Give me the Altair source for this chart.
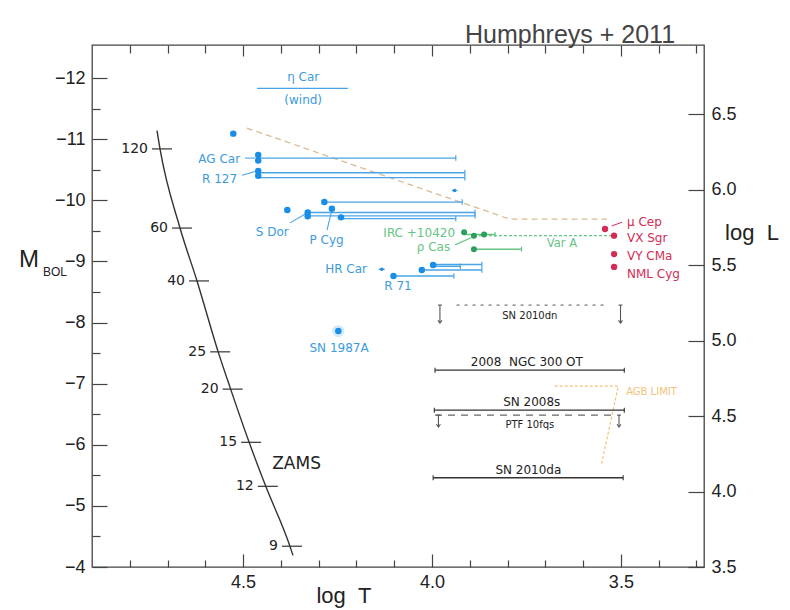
import altair as alt
import pandas as pd

# ---------------- data (log T, M_bol) ----------------
# ZAMS track and mass marks
zams_logt = [4.728, 4.720, 4.667, 4.622, 4.566, 4.533, 4.484, 4.440, 4.376, 4.368]
zams_mbol = [-11.14, -10.84, -9.545, -8.68, -7.52, -6.91, -6.04, -5.32, -4.34, -4.19]
zams_mass = ["", "120", "60", "40", "25", "20", "15", "12", "9", ""]

# Humphreys-Davidson limit (dashed)
hd_logt = [4.490, 3.794, 3.537]
hd_mbol = [-11.18, -9.69, -9.69]

# AGB limit
agb_logt = [3.675, 3.507, 3.551]
agb_mbol = [-6.96, -6.96, -5.69]

# eta Car wind
etacar_lo = [4.463]
etacar_hi = [4.222]
etacar_m = [-11.83]

# blue stars (LBVs etc.)
blue_pt_logt = [4.526, 4.46, 4.46, 4.46, 4.46, 4.285, 4.383, 4.265, 4.329, 4.329, 4.241, 4.102, 4.027, 3.997, 4.248]
blue_pt_mbol = [-11.09, -10.74, -10.65, -10.48, -10.40, -9.97, -9.84, -9.86, -9.80, -9.74, -9.72, -8.76, -8.86, -8.94, -7.86]
blue_small_logt = [3.940, 4.133]
blue_small_mbol = [-10.16, -8.87]
blue_rng_lo = [4.46, 4.46, 4.46, 3.947, 4.285, 4.329, 4.329, 4.241, 4.141, 4.102, 4.027, 3.997, 3.997]
blue_rng_hi = [3.937, 3.913, 3.913, 3.933, 3.920, 3.886, 3.886, 3.937, 4.125, 3.942, 3.868, 3.868, 3.925]
blue_rng_m = [-10.69, -10.45, -10.37, -10.16, -9.97, -9.80, -9.745, -9.70, -8.87, -8.76, -8.86, -8.95, -8.92]
sn87_logt = [4.248]
sn87_mbol = [-7.86]

blue_lab_r_text = ["AG Car", "R 127", "HR Car"]
blue_lab_r_logt = [4.508, 4.516, 4.172]
blue_lab_r_m = [-10.67, -10.35, -8.87]
blue_lab_c_text = ["S Dor", "P Cyg", "R 71", "SN 1987A", "η Car", "(wind)"]
blue_lab_c_logt = [4.423, 4.279, 4.090, 4.246, 4.341, 4.341]
blue_lab_c_m = [-9.475, -9.35, -8.60, -7.58, -12.02, -11.64]
blue_lead_x = [4.495, 4.503, 4.376, 4.278]
blue_lead_x2 = [4.468, 4.468, 4.331, 4.265]
blue_lead_y = [-10.69, -10.41, -9.63, -9.51]
blue_lead_y2 = [-10.69, -10.47, -9.79, -9.84]

# green stars (yellow hypergiants)
green_pt_logt = [3.915, 3.889, 3.862, 3.889]
green_pt_mbol = [-9.475, -9.42, -9.44, -9.20]
green_rng_lo = [3.915, 3.889]
green_rng_hi = [3.833, 3.763]
green_rng_m = [-9.44, -9.20]
vara_lo = [3.889]
vara_hi = [3.521]
vara_m = [-9.42]
green_lab_r_text = ["IRC +10420", "ρ Cas"]
green_lab_r_logt = [3.939, 3.952]
green_lab_r_m = [-9.46, -9.24]
green_lab_c_text = ["Var A"]
green_lab_c_logt = [3.656]
green_lab_c_m = [-9.29]

# red supergiants
rsg_names = ["μ Cep", "VX Sgr", "VY CMa", "NML Cyg"]
rsg_logt = [3.542, 3.518, 3.518, 3.518]
rsg_mbol = [-9.53, -9.42, -9.12, -8.91]
rsg_lab_logt = [3.484, 3.484, 3.484, 3.484]
rsg_lab_mbol = [-9.64, -9.39, -9.08, -8.79]

# transients: detected ranges
snd_names = ["2008\u00a0\u00a0NGC 300 OT", "SN 2008s", "SN 2010da"]
snd_lo = [3.992, 3.994, 3.997]
snd_hi = [3.491, 3.491, 3.494]
snd_m = [-7.22, -6.566, -5.46]
snd_lab_logt = [3.749, 3.736, 3.745]
snd_lab_m = [-7.36, -6.70, -5.58]
# transients: upper limits
snl_names = ["SN 2010dn", "PTF 10fqs"]
snl_lo = [3.935, 3.992]
snl_hi = [3.538, 3.521]
snl_m = [-8.285, -6.485]
snl_lab_logt = [3.741, 3.741]
snl_lab_m = [-8.10, -6.32]
arrow_logt = [3.979, 3.501, 3.983, 3.505]
arrow_top = [-8.285, -8.285, -6.485, -6.485]
arrow_bot = [-7.99, -7.99, -6.29, -6.29]

# axes
m_ticks = [-12, -11, -10, -9, -8, -7, -6, -5, -4]
m_minor = [-11.5, -10.5, -9.5, -8.5, -7.5, -6.5, -5.5, -4.5]
t_ticks = [4.5, 4.0, 3.5]
t_minor = [4.8, 4.7, 4.6, 4.4, 4.3, 4.2, 4.1, 3.9, 3.8, 3.7, 3.6, 3.4, 3.3]
l_ticks = [3.5, 4.0, 4.5, 5.0, 5.5, 6.0, 6.5]

# ---------------- styles ----------------
BLUE_PT = "#1a8ee6"
BLUE_LN = "#48a4e6"
BLUE_TX = "#3c9be0"
GREEN_PT = "#2e9e5e"
GREEN_LN = "#66c486"
RED = "#d22c55"
INK = "#333333"
SANS = "DejaVu Sans"
ARIAL = "Liberation Sans"

xs = alt.Scale(domain=[4.90, 3.28], nice=False, zero=False)
ys = alt.Scale(domain=[-4.0, -12.54], nice=False, zero=False)
ls = alt.Scale(domain=[3.5, 6.957], nice=False, zero=False)


def X(f):
    return alt.X(f + ":Q", scale=xs, axis=None)


def Y(f):
    return alt.Y(f + ":Q", scale=ys, axis=None)


def df(**kw):
    return pd.DataFrame(kw)


HBAR = "M -1 0 L 1 0"
VBAR = "M 0 -1 L 0 1"
VHEAD = "M -1 -1.4 L 0 0 L 1 -1.4"

layers = []

# ZAMS
zams = df(t=zams_logt, m=zams_mbol, lab=zams_mass, o=list(range(len(zams_logt))))
layers.append(alt.Chart(zams).mark_line(color=INK, strokeWidth=1.4, interpolate="monotone")
              .encode(x=X("t"), y=Y("m"), order="o:Q"))
mass = zams[zams.lab != ""]
layers.append(alt.Chart(mass).mark_point(shape=HBAR, size=400, filled=False, color=INK, strokeWidth=1.2,
                                         opacity=1, xOffset=2).encode(x=X("t"), y=Y("m")))
layers.append(alt.Chart(mass).mark_text(align="right", dx=-12, font=SANS, fontSize=14, color="#222")
              .encode(x=X("t"), y=Y("m"), text="lab:N"))
layers.append(alt.Chart(df(t=[4.423], m=[-5.69], s=["ZAMS"])).mark_text(align="left", font=SANS, fontSize=17, color="#222")
              .encode(x=X("t"), y=Y("m"), text="s:N"))

# HD limit and AGB limit
layers.append(alt.Chart(df(t=hd_logt, m=hd_mbol, o=[0, 1, 2])).mark_line(color="#d9bb92", strokeWidth=1.3, strokeDash=[6, 4])
              .encode(x=X("t"), y=Y("m"), order="o:Q"))
layers.append(alt.Chart(df(t=agb_logt, m=agb_mbol, o=[0, 1, 2])).mark_line(color="#f2c27a", strokeWidth=1.2, strokeDash=[3, 2])
              .encode(x=X("t"), y=Y("m"), order="o:Q"))
layers.append(alt.Chart(df(t=[3.419], m=[-6.87], s=["AGB LIMIT"])).mark_text(font=SANS, fontSize=10, color="#f2c27a")
              .encode(x=X("t"), y=Y("m"), text="s:N"))

# eta Car wind
layers.append(alt.Chart(df(a=etacar_lo, b=etacar_hi, m=etacar_m)).mark_rule(color=BLUE_LN, strokeWidth=1.3)
              .encode(x=X("a"), x2="b:Q", y=Y("m")))

# blue ranges
brng = df(a=blue_rng_lo, b=blue_rng_hi, m=blue_rng_m)
layers.append(alt.Chart(brng).mark_rule(color=BLUE_LN, strokeWidth=1.4).encode(x=X("a"), x2="b:Q", y=Y("m")))
bcap = brng[(brng.a - brng.b) > 0.03]
layers.append(alt.Chart(bcap).mark_point(shape=VBAR, size=30, filled=False, color=BLUE_LN, strokeWidth=1.2, opacity=1)
              .encode(x=X("b"), y=Y("m")))
layers.append(alt.Chart(df(x=blue_lead_x, x2=blue_lead_x2, y=blue_lead_y, y2=blue_lead_y2))
              .mark_rule(color=BLUE_LN, strokeWidth=1.1).encode(x=X("x"), x2="x2:Q", y=Y("y"), y2="y2:Q"))
layers.append(alt.Chart(df(t=sn87_logt, m=sn87_mbol)).mark_point(filled=True, size=150, color="#9fd0f5", opacity=0.45)
              .encode(x=X("t"), y=Y("m")))
layers.append(alt.Chart(df(t=blue_pt_logt, m=blue_pt_mbol)).mark_point(filled=True, size=42, color=BLUE_PT, opacity=1)
              .encode(x=X("t"), y=Y("m")))
layers.append(alt.Chart(df(t=blue_small_logt, m=blue_small_mbol)).mark_point(filled=True, size=12, color=BLUE_PT, opacity=1)
              .encode(x=X("t"), y=Y("m")))
layers.append(alt.Chart(df(t=blue_lab_r_logt, m=blue_lab_r_m, s=blue_lab_r_text))
              .mark_text(align="right", font=SANS, fontSize=12, color=BLUE_TX).encode(x=X("t"), y=Y("m"), text="s:N"))
layers.append(alt.Chart(df(t=blue_lab_c_logt, m=blue_lab_c_m, s=blue_lab_c_text))
              .mark_text(align="center", font=SANS, fontSize=12, color=BLUE_TX).encode(x=X("t"), y=Y("m"), text="s:N"))

# green
layers.append(alt.Chart(df(a=vara_lo, b=vara_hi, m=vara_m)).mark_rule(color=GREEN_LN, strokeWidth=1.3, strokeDash=[3, 2])
              .encode(x=X("a"), x2="b:Q", y=Y("m")))
grng = df(a=green_rng_lo, b=green_rng_hi, m=green_rng_m)
layers.append(alt.Chart(grng).mark_rule(color=GREEN_LN, strokeWidth=1.5).encode(x=X("a"), x2="b:Q", y=Y("m")))
layers.append(alt.Chart(grng).mark_point(shape=VBAR, size=25, filled=False, color=GREEN_LN, strokeWidth=1.2, opacity=1)
              .encode(x=X("b"), y=Y("m")))
layers.append(alt.Chart(df(x=[3.939], x2=[3.895], y=[-9.27], y2=[-9.39]))
              .mark_rule(color=GREEN_LN, strokeWidth=1.1).encode(x=X("x"), x2="x2:Q", y=Y("y"), y2="y2:Q"))
layers.append(alt.Chart(df(t=green_pt_logt, m=green_pt_mbol)).mark_point(filled=True, size=36, color=GREEN_PT, opacity=1)
              .encode(x=X("t"), y=Y("m")))
layers.append(alt.Chart(df(t=green_lab_r_logt, m=green_lab_r_m, s=green_lab_r_text))
              .mark_text(align="right", font=SANS, fontSize=12, color=GREEN_LN).encode(x=X("t"), y=Y("m"), text="s:N"))
layers.append(alt.Chart(df(t=green_lab_c_logt, m=green_lab_c_m, s=green_lab_c_text))
              .mark_text(align="center", font=SANS, fontSize=11.5, color=GREEN_LN).encode(x=X("t"), y=Y("m"), text="s:N"))

# red
layers.append(alt.Chart(df(x=[3.524], x2=[3.497], y=[-9.58], y2=[-9.64]))
              .mark_rule(color=RED, strokeWidth=1.0).encode(x=X("x"), x2="x2:Q", y=Y("y"), y2="y2:Q"))
layers.append(alt.Chart(df(t=rsg_logt, m=rsg_mbol)).mark_point(filled=True, size=40, color=RED, opacity=1)
              .encode(x=X("t"), y=Y("m")))
layers.append(alt.Chart(df(t=rsg_lab_logt, m=rsg_lab_mbol, s=rsg_names))
              .mark_text(align="left", font=SANS, fontSize=12, color=RED).encode(x=X("t"), y=Y("m"), text="s:N"))

# transients detected
snd = df(a=snd_lo, b=snd_hi, m=snd_m)
layers.append(alt.Chart(snd).mark_rule(color=INK, strokeWidth=1.3).encode(x=X("a"), x2="b:Q", y=Y("m")))
layers.append(alt.Chart(snd).mark_point(shape=VBAR, size=25, filled=False, color=INK, strokeWidth=1.1, opacity=1)
              .encode(x=X("a"), y=Y("m")))
layers.append(alt.Chart(snd).mark_point(shape=VBAR, size=25, filled=False, color=INK, strokeWidth=1.1, opacity=1)
              .encode(x=X("b"), y=Y("m")))
layers.append(alt.Chart(df(t=snd_lab_logt, m=snd_lab_m, s=snd_names))
              .mark_text(font=SANS, fontSize=12, color="#222").encode(x=X("t"), y=Y("m"), text="s:N"))
# transients upper limits
layers.append(alt.Chart(df(a=snl_lo[:1], b=snl_hi[:1], m=snl_m[:1])).mark_rule(color="#777", strokeWidth=1.2, strokeDash=[3, 5])
              .encode(x=X("a"), x2="b:Q", y=Y("m")))
layers.append(alt.Chart(df(a=snl_lo[1:], b=snl_hi[1:], m=snl_m[1:])).mark_rule(color="#666", strokeWidth=1.3, strokeDash=[7, 6])
              .encode(x=X("a"), x2="b:Q", y=Y("m")))
arr = df(t=arrow_logt, a=arrow_top, b=arrow_bot)
layers.append(alt.Chart(arr).mark_rule(color="#555", strokeWidth=1.1).encode(x=X("t"), y=Y("a"), y2="b:Q"))
layers.append(alt.Chart(arr).mark_point(shape=HBAR, size=16, filled=False, color="#555", strokeWidth=1.1, opacity=1)
              .encode(x=X("t"), y=Y("a")))
layers.append(alt.Chart(arr).mark_point(shape=VHEAD, size=16, filled=False, color="#555", strokeWidth=1.1, opacity=1)
              .encode(x=X("t"), y=Y("b")))
layers.append(alt.Chart(df(t=snl_lab_logt, m=snl_lab_m, s=snl_names))
              .mark_text(font=SANS, fontSize=10, color="#222").encode(x=X("t"), y=Y("m"), text="s:N"))

# ---------------- axes ----------------
AX = dict(domain=False, grid=False, title=None, tickColor="#444", tickWidth=1.2, labelFlush=False,
          labelFont=ARIAL, labelFontSize=18, labelColor="#222")


def yaxis_layer(vals, size, labels):
    kw = dict(AX)
    kw.update(orient="left", values=vals, offset=-size, tickSize=size, labels=labels, labelPadding=7)
    return alt.Chart(df(v=vals)).mark_point(opacity=0).encode(y=alt.Y("v:Q", scale=ys, axis=alt.Axis(**kw)))


def xaxis_layer(vals, size, labels, orient):
    kw = dict(AX)
    kw.update(orient=orient, values=vals, offset=-size, tickSize=size, labels=labels, labelPadding=6, format=".1f")
    return alt.Chart(df(v=vals)).mark_point(opacity=0).encode(x=alt.X("v:Q", scale=xs, axis=alt.Axis(**kw)))


axis_layers = [
    yaxis_layer(m_ticks, 15, True),
    yaxis_layer(m_minor, 8, False),
    xaxis_layer(t_ticks, 13, True, "bottom"),
    xaxis_layer(t_minor, 7, False, "bottom"),
    xaxis_layer(t_ticks, 11, False, "top"),
    xaxis_layer(t_minor, 8, False, "top"),
]


# outer titles (pixel positions relative to the plot area)
def title_text(s, px, py, size, font=ARIAL, color="#222", **kw):
    return alt.Chart(df(s=[s])).mark_text(font=font, fontSize=size, color=color, **kw).encode(
        x=alt.value(px), y=alt.value(py), text="s:N")


titles = [
    title_text("M", -63, 215, 24),
    title_text("BOL", -37, 227, 12),
    title_text("log\u00a0\u00a0L", 660, 188, 22),
    title_text("log\u00a0\u00a0T", 252, 551, 22),
    title_text("Humphreys + 2011", 478, -10, 25, color="#444", fontWeight=300),
]

inner = alt.layer(*layers, *axis_layers, *titles).resolve_axis(x="independent", y="independent")

rkw = dict(AX)
rkw.update(orient="right", values=l_ticks, offset=-16, tickSize=16, labelPadding=7, format=".1f")
right = alt.Chart(df(L=l_ticks)).mark_point(opacity=0).encode(
    y=alt.Y("L:Q", scale=ls, axis=alt.Axis(**rkw)))

chart = (
    alt.layer(inner, right)
    .resolve_scale(y="independent")
    .resolve_axis(x="independent", y="independent")
    .properties(width=612, height=522, background="white",
                padding={"left": 92, "top": 45, "right": 86, "bottom": 43},
                autosize=alt.AutoSizeParams(type="none"))
    .configure_view(stroke="#444", strokeWidth=1.3)
)

chart.save("out.html", embed_options={"renderer": "svg", "actions": False})
